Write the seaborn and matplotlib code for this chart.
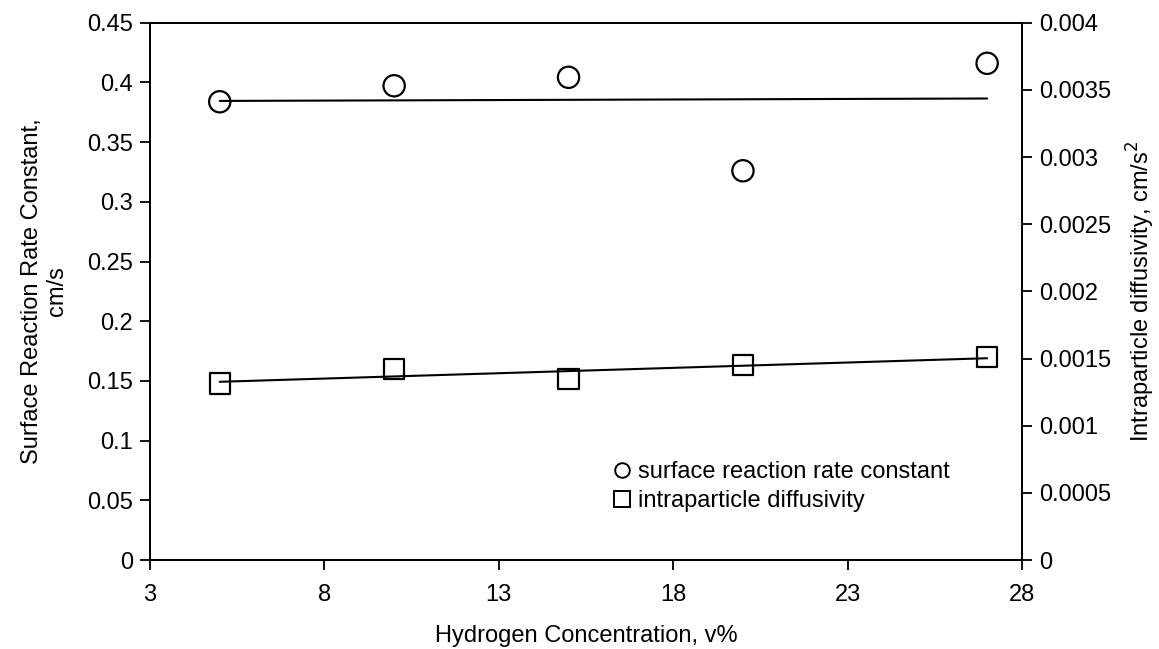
import matplotlib
matplotlib.use("Agg")
import matplotlib.pyplot as plt
from matplotlib.lines import Line2D
import numpy as np
import pandas as pd
import seaborn as sns

# Hydrogen concentration (v%) and fitted kinetic parameters
h2_conc = [5, 10, 15, 20, 27]
surface_rate = [0.3838, 0.3972, 0.4043, 0.3260, 0.4160]          # cm/s
intraparticle_diff = [0.001315, 0.001422, 0.001347, 0.001452, 0.001513]  # cm/s^2

x_ticks = [3, 8, 13, 18, 23, 28]
left_ticks = [0, 0.05, 0.1, 0.15, 0.2, 0.25, 0.3, 0.35, 0.4, 0.45]
right_ticks = [0, 0.0005, 0.001, 0.0015, 0.002, 0.0025, 0.003, 0.0035, 0.004]

df = pd.DataFrame({"h2": h2_conc, "k": surface_rate, "d": intraparticle_diff})

sns.set_theme(style="white")
plt.rcParams["font.family"] = ["Liberation Sans", "DejaVu Sans"]
FS = 17

fig = plt.figure(figsize=(11.59, 6.49), dpi=100)
ax = fig.add_axes([0.1294, 0.1371, 0.8818 - 0.1294, 0.965 - 0.1371])
ax2 = ax.twinx()

line_style = dict(color="black", linewidth=1.5)

sns.regplot(data=df, x="h2", y="k", ax=ax, ci=None, marker="o",
            scatter_kws=dict(s=235, facecolors="none", edgecolors="black",
                             linewidths=1.6, alpha=1),
            line_kws=line_style)
sns.regplot(data=df, x="h2", y="d", ax=ax2, ci=None, marker="s",
            scatter_kws=dict(s=215, facecolors="none", edgecolors="black",
                             linewidths=1.6, alpha=1),
            line_kws=line_style)

ax.set_xlim(3, 28)
ax.set_ylim(0, 0.45)
ax2.set_ylim(0, 0.004)
ax.set_xticks(x_ticks)
ax.set_xticklabels([str(v) for v in x_ticks])
ax.set_yticks(left_ticks)
ax.set_yticklabels([f"{v:g}" for v in left_ticks])
ax2.set_yticks(right_ticks)
ax2.set_yticklabels([f"{v:g}" for v in right_ticks])

for a in (ax, ax2):
    a.grid(False)
    for sp in a.spines.values():
        sp.set_color("black")
        sp.set_linewidth(1.3)
    a.tick_params(direction="out", length=7, width=1.3, color="black",
                  labelsize=FS, labelcolor="black", pad=5)
ax.tick_params(axis="x", pad=10)
ax.tick_params(axis="both", left=True, bottom=True)
ax2.tick_params(axis="y", right=True)

ax.set_xlabel("Hydrogen Concentration, v%", fontsize=FS, color="black", labelpad=14)
ax.set_ylabel("Surface Reaction Rate Constant,\ncm/s", fontsize=FS, color="black",
              labelpad=14)
ax2.set_ylabel("Intraparticle diffusivity, cm/s$^2$", fontsize=FS, color="black",
               labelpad=10)

handles = [
    Line2D([], [], linestyle="none", marker="o", markersize=10.5,
           markerfacecolor="none", markeredgecolor="black", markeredgewidth=1.4),
    Line2D([], [], linestyle="none", marker="s", markersize=12,
           markerfacecolor="none", markeredgecolor="black", markeredgewidth=1.4),
]
ax2.legend(handles, ["surface reaction rate constant", "intraparticle diffusivity"],
           loc="center left", bbox_to_anchor=(0.518, 0.136), frameon=False,
           fontsize=FS, labelcolor="black", handletextpad=0.22, handlelength=0.9,
           labelspacing=0.3, borderaxespad=0)

fig.savefig("out.png", dpi=100, facecolor="white")
